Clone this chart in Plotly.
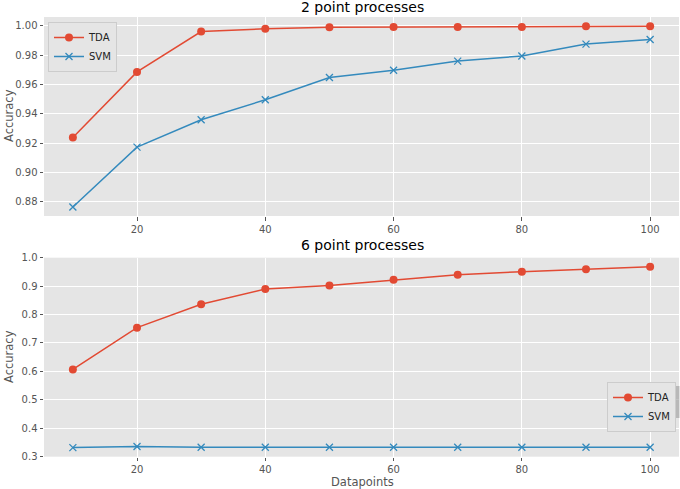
import plotly.graph_objects as go

datapoints = [10, 20, 30, 40, 50, 60, 70, 80, 90, 100]
tda_2 = [0.9239, 0.9686, 0.9962, 0.9980, 0.9991, 0.9993, 0.9993, 0.9992, 0.9998, 0.9998]
svm_2 = [0.8764, 0.9173, 0.9360, 0.9496, 0.9648, 0.9698, 0.9760, 0.9795, 0.9876, 0.9908]
tda_6 = [0.607, 0.754, 0.836, 0.890, 0.902, 0.922, 0.940, 0.951, 0.959, 0.968]
svm_6 = [0.332, 0.336, 0.333, 0.333, 0.333, 0.333, 0.333, 0.333, 0.333, 0.333]

x_ticks = [20, 40, 60, 80, 100]
y_ticks_top = [0.88, 0.90, 0.92, 0.94, 0.96, 0.98, 1.00]
y_ticks_bot = [0.3, 0.4, 0.5, 0.6, 0.7, 0.8, 0.9, 1.0]

RED = "#E24A33"
BLUE = "#348ABD"
W, H = 680, 489

def py(p):
    return 1 - p / H

def px(p):
    return p / W

fig = go.Figure()

def add_series(x, y, name, color, xa, ya, legend):
    if name == "TDA":
        marker = dict(symbol="circle", size=8, color=color)
    else:
        marker = dict(symbol="x-thin", size=7, color=color, line=dict(color=color, width=1.3))
    fig.add_trace(go.Scatter(x=x, y=y, name=name, mode="lines+markers",
                             line=dict(color=color, width=1.5), marker=marker,
                             xaxis=xa, yaxis=ya, legend=legend))

add_series(datapoints, tda_2, "TDA", RED, "x", "y", "legend")
add_series(datapoints, svm_2, "SVM", BLUE, "x", "y", "legend")
add_series(datapoints, tda_6, "TDA", RED, "x2", "y2", "legend2")
add_series(datapoints, svm_6, "SVM", BLUE, "x2", "y2", "legend2")

axis_common = dict(showgrid=True, gridcolor="white", gridwidth=1, zeroline=False,
                   ticks="outside", ticklen=3.5, tickcolor="#555555", tickwidth=1,
                   tickfont=dict(family="DejaVu Sans", size=10, color="#555555"),
                   showline=False, automargin=False)

x_dom = [px(44), px(679)]
legend_common = dict(bgcolor="#E5E5E5", bordercolor="#CCCCCC", borderwidth=1,
                     font=dict(family="DejaVu Sans", size=10, color="#222222"),
                     itemwidth=30, tracegroupgap=0)

def label(text, x, y, angle=0, size=11.5, color="#555555"):
    return dict(text=text, x=px(x), y=py(y), xref="paper", yref="paper", showarrow=False,
                textangle=angle, font=dict(family="DejaVu Sans", size=size, color=color),
                xanchor="center", yanchor="middle")

fig.update_layout(
    width=W, height=H,
    margin=dict(l=0, r=0, t=0, b=0),
    paper_bgcolor="white",
    plot_bgcolor="#E5E5E5",
    font=dict(family="DejaVu Sans", color="#555555"),
    xaxis=dict(domain=x_dom, range=[5.5, 104.5], tickvals=x_ticks, anchor="y", **axis_common),
    yaxis=dict(domain=[py(216), py(17)], range=[0.8703, 1.0061], tickvals=y_ticks_top,
               tickformat=".2f", anchor="x", **axis_common),
    xaxis2=dict(domain=x_dom, range=[5.5, 104.5], tickvals=x_ticks, anchor="y2", **axis_common),
    yaxis2=dict(domain=[py(456.7), py(257.7)], range=[0.300, 1.0], tickvals=y_ticks_bot,
                tickformat=".1f", anchor="x2", **axis_common),
    legend=dict(x=px(48), y=py(22), xanchor="left", yanchor="top", **legend_common),
    legend2=dict(x=px(676), y=py(382), xanchor="right", yanchor="top", **legend_common),
    annotations=[
        label("2 point processes", 362, 7, size=14, color="black"),
        label("6 point processes", 362, 245, size=14, color="black"),
        label("Accuracy", 9, 116, angle=-90),
        label("Accuracy", 9, 357, angle=-90),
        label("Datapoints", 362, 481.5),
    ],
    shapes=[
        dict(type="rect", xref="paper", yref="paper", x0=px(624), x1=px(679.5), y0=py(418), y1=py(386),
             fillcolor="#999999", line=dict(width=0), layer="above", opacity=0.6),
    ],
)

fig.write_html("out.html", config={"displayModeBar": False},
               post_script="document.body.style.margin='0';document.body.style.overflow='hidden';")
